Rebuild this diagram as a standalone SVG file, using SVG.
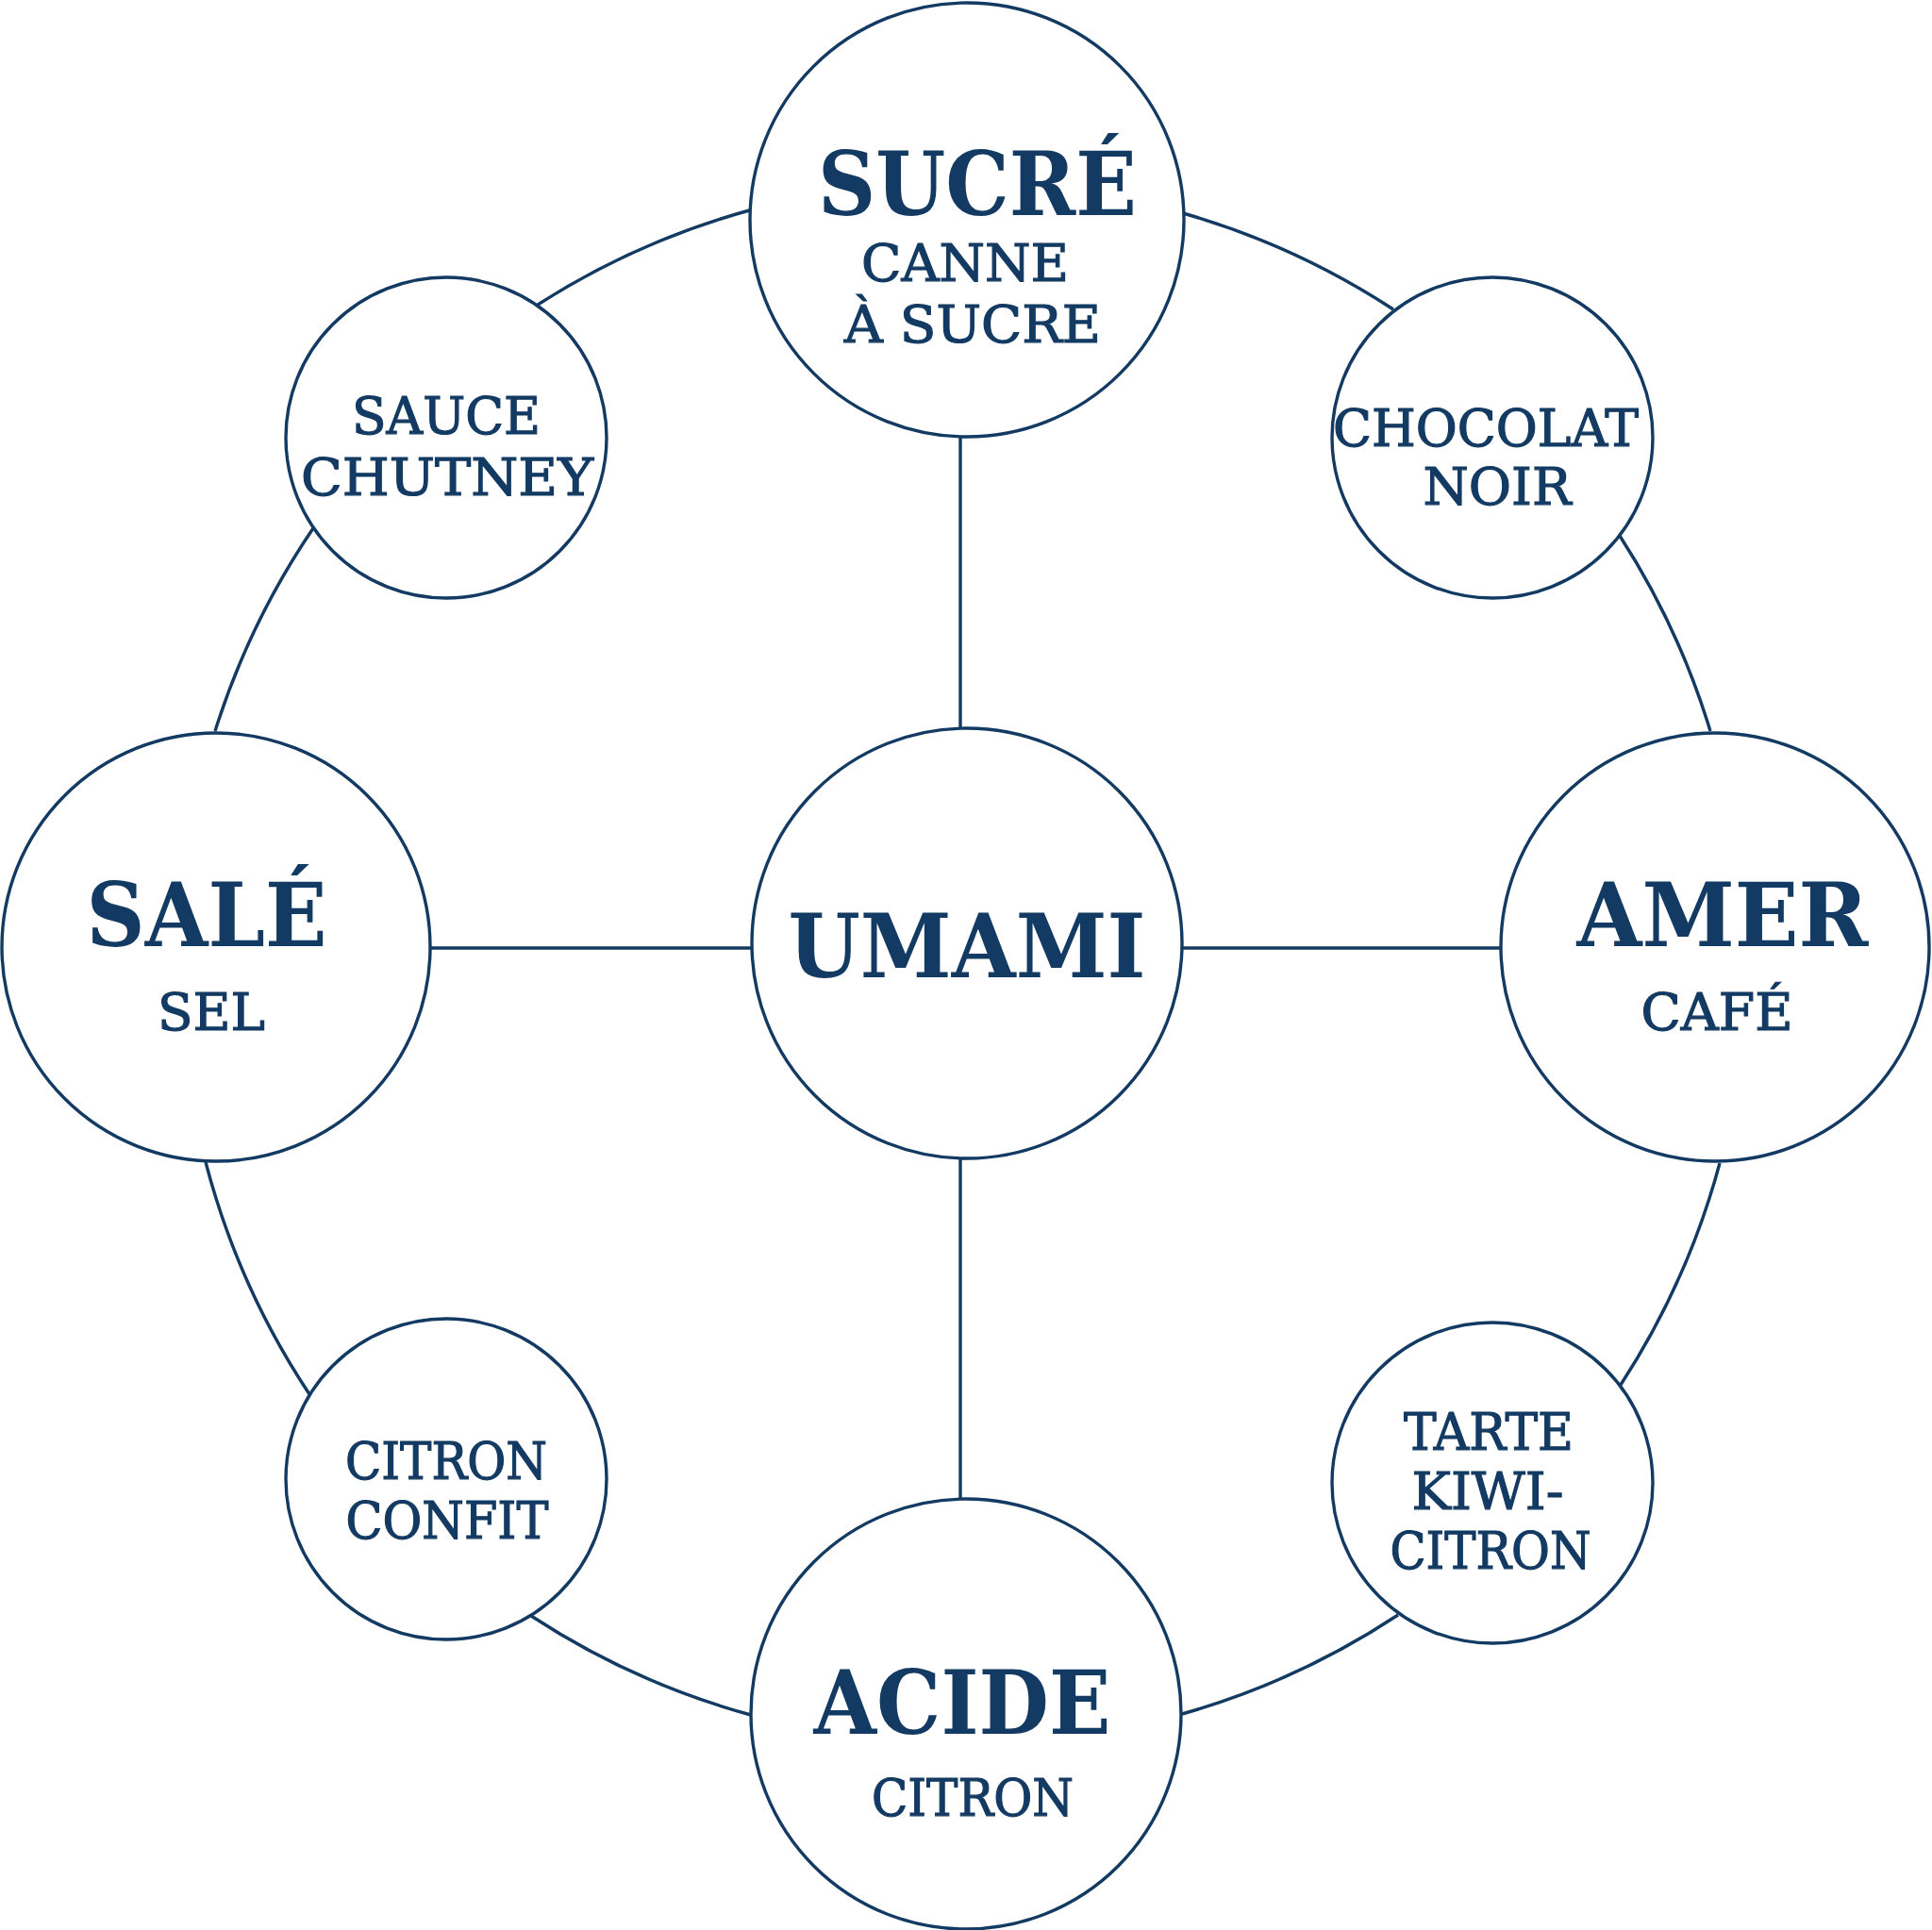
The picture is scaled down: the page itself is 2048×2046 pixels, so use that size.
<svg xmlns="http://www.w3.org/2000/svg" width="2048" height="2046" viewBox="0 0 2048 2046">
<style>
.c{fill:#fff;stroke:#133a62;stroke-width:3.4}
.l{fill:none;stroke:#133a62;stroke-width:3.4}
.t{font-family:"DejaVu Serif","Liberation Serif",serif;font-weight:bold;font-size:93px;fill:#133a62;text-anchor:middle}
.s{font-family:"DejaVu Serif","Liberation Serif",serif;font-size:54px;fill:#133a62;stroke:#133a62;stroke-width:1.2;text-anchor:middle}
</style>
<rect width="2048" height="2046" fill="#fff"/>
<g id="connectors">
<path class="l" d="M1254,226 A820,820 0 0 1 1477,328"/>
<path class="l" d="M1717,568 A820,820 0 0 1 1813,775"/>
<path class="l" d="M1823,1233 A820,820 0 0 1 1718,1468"/>
<path class="l" d="M1482,1712 A820,820 0 0 1 1253,1817"/>
<path class="l" d="M796,1818 A820,820 0 0 1 563,1713"/>
<path class="l" d="M328,1478 A820,820 0 0 1 218,1232"/>
<path class="l" d="M228,775 A820,820 0 0 1 332,560"/>
<path class="l" d="M570,323 A820,820 0 0 1 798,222"/>
<line class="l" x1="1018" y1="462" x2="1018" y2="773"/>
<line class="l" x1="1018" y1="1227" x2="1018" y2="1590"/>
<line class="l" x1="456" y1="1005" x2="797" y2="1005"/>
<line class="l" x1="1253" y1="1005" x2="1592" y2="1005"/>
</g>
<g id="sucre">
<circle class="c" cx="1025" cy="233" r="230"/>
<text class="t" x="1036" y="228" textLength="338" lengthAdjust="spacingAndGlyphs">SUCRÉ</text>
<text class="s" x="1023" y="298" textLength="220" lengthAdjust="spacingAndGlyphs">CANNE</text>
<text class="s" x="1031" y="363" textLength="272" lengthAdjust="spacingAndGlyphs">À SUCRE</text>
</g>
<g id="umami">
<circle class="c" cx="1025" cy="1000" r="228"/>
<text class="t" x="1025" y="1036" textLength="379" lengthAdjust="spacingAndGlyphs">UMAMI</text>
</g>
<g id="sale">
<circle class="c" cx="229" cy="1004" r="227"/>
<text class="t" x="219" y="1003" textLength="255" lengthAdjust="spacingAndGlyphs">SALÉ</text>
<text class="s" x="224" y="1092" textLength="114" lengthAdjust="spacingAndGlyphs">SEL</text>
</g>
<g id="amer">
<circle class="c" cx="1818" cy="1004" r="227"/>
<text class="t" x="1826" y="1003" textLength="309" lengthAdjust="spacingAndGlyphs">AMER</text>
<text class="s" x="1820" y="1092" textLength="161" lengthAdjust="spacingAndGlyphs">CAFÉ</text>
</g>
<g id="acide">
<circle class="c" cx="1024" cy="1817" r="228"/>
<text class="t" x="1020" y="1838" textLength="315" lengthAdjust="spacingAndGlyphs">ACIDE</text>
<text class="s" x="1031" y="1925" textLength="214" lengthAdjust="spacingAndGlyphs">CITRON</text>
</g>
<g id="sauce-chutney">
<circle class="c" cx="473" cy="464" r="170"/>
<text class="s" x="473" y="460" textLength="200" lengthAdjust="spacingAndGlyphs">SAUCE</text>
<text class="s" x="474" y="525" textLength="310" lengthAdjust="spacingAndGlyphs">CHUTNEY</text>
</g>
<g id="chocolat-noir">
<circle class="c" cx="1582" cy="464" r="170"/>
<text class="s" x="1575" y="473" textLength="324" lengthAdjust="spacingAndGlyphs">CHOCOLAT</text>
<text class="s" x="1587" y="535" textLength="157" lengthAdjust="spacingAndGlyphs">NOIR</text>
</g>
<g id="citron-confit">
<circle class="c" cx="473" cy="1568" r="170"/>
<text class="s" x="473" y="1568" textLength="214" lengthAdjust="spacingAndGlyphs">CITRON</text>
<text class="s" x="474" y="1631" textLength="215" lengthAdjust="spacingAndGlyphs">CONFIT</text>
</g>
<g id="tarte-kiwi-citron">
<circle class="c" cx="1582" cy="1572" r="170"/>
<text class="s" x="1578" y="1537" textLength="180" lengthAdjust="spacingAndGlyphs">TARTE</text>
<text class="s" x="1577" y="1600" textLength="161" lengthAdjust="spacingAndGlyphs">KIWI-</text>
<text class="s" x="1580" y="1663" textLength="213" lengthAdjust="spacingAndGlyphs">CITRON</text>
</g>
</svg>
